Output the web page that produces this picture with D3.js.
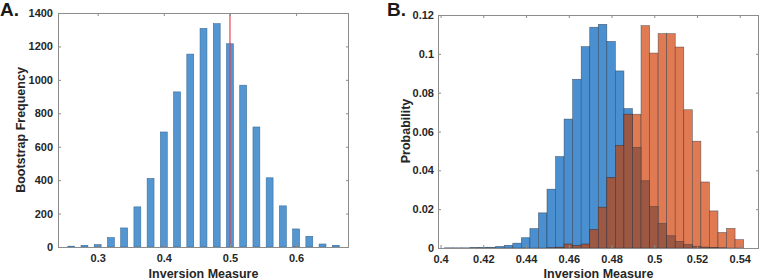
<!DOCTYPE html>
<html>
<head>
  <script src="https://d3js.org/d3.v7.min.js"></script>
  <style>
    body { margin: 0; background: #fff; font-family: "Liberation Sans", Arial, sans-serif; }
    .tick text { font-size: 11px; font-weight: bold; fill: #262626; font-family: "Liberation Sans", Arial, sans-serif; }
    .tick line { stroke: #8c8c8c; }
    .axis-label { font-size: 12.5px; font-weight: bold; fill: #262626; }
    .panel-label { font-size: 19px; font-weight: bold; fill: #1a1a1a; }
  </style>
</head>
<body>
  <div id="chart"></div>
  <script>
    // Panel A: bootstrap frequencies
    const binsA = [0.26, 0.28, 0.30, 0.32, 0.34, 0.36, 0.38, 0.40, 0.42, 0.44, 0.46,
                   0.48, 0.50, 0.52, 0.54, 0.56, 0.58, 0.60, 0.62, 0.64, 0.66];
    const freqA = [5, 10, 14, 56, 114, 240, 410, 688, 928, 1154, 1308,
                   1336, 1216, 968, 718, 414, 246, 108, 64, 18, 10];
    const refLineA = 0.5;
    const xTicksA = [0.3, 0.4, 0.5, 0.6];
    const yTicksA = [0, 200, 400, 600, 800, 1000, 1200, 1400];

    // Panel B: two probability histograms sharing bin edges
    const edgesB = [0.4018, 0.4058, 0.4098, 0.4138, 0.4178, 0.4218, 0.4258, 0.4298, 0.4338,
                    0.4378, 0.4418, 0.4458, 0.4498, 0.4538, 0.4578, 0.4618, 0.4658, 0.4698,
                    0.4738, 0.4778, 0.4818, 0.4858, 0.4898, 0.4938, 0.4978, 0.5018, 0.5058,
                    0.5098, 0.5138, 0.5178, 0.5218, 0.5258, 0.5298, 0.5338, 0.5378, 0.5418];
    const blueB = [0.0001, 0.0001, 0.0001, 0.0002, 0.0003, 0.0004, 0.0008, 0.0014, 0.0025,
                   0.0053, 0.0100, 0.0181, 0.0303, 0.0471, 0.0664, 0.0869, 0.1037, 0.1137,
                   0.1152, 0.1064, 0.0912, 0.0718, 0.0518, 0.0346, 0.0213, 0.0126, 0.0063,
                   0.0033, 0.0018, 0.0009, 0.0005, 0.0002, 0.0001, 0, 0];
    const orangeB = [0, 0, 0, 0, 0, 0, 0, 0, 0,
                     0, 0, 0, 0.0001, 0.0004, 0.0020, 0.0012, 0.0020, 0.0094,
                     0.0210, 0.0362, 0.0528, 0.0689, 0.0689, 0.1145, 0.1004, 0.1104, 0.1104,
                     0.1035, 0.0712, 0.0550, 0.0340, 0.0191, 0.0080, 0.0101, 0.0043];
    const xTicksB = [0.4, 0.42, 0.44, 0.46, 0.48, 0.5, 0.52, 0.54];
    const yTicksB = [0, 0.02, 0.04, 0.06, 0.08, 0.1, 0.12];

    const svg = d3.select("#chart").append("svg")
      .attr("width", 761)
      .attr("height", 279);

    function frame(g, x, y, xTicks, yTicks, yPad) {
      const [x0, x1] = x.range();
      const [y0, y1] = y.range();
      g.append("g").attr("transform", `translate(0,${y0})`)
        .call(d3.axisBottom(x).tickValues(xTicks).tickSize(-3).tickPadding(7).tickFormat(d3.format("~g")))
        .call(s => s.select(".domain").remove());
      g.append("g").attr("transform", `translate(0,${y1})`)
        .call(d3.axisTop(x).tickValues(xTicks).tickSize(-3).tickFormat(""))
        .call(s => s.select(".domain").remove());
      g.append("g").attr("transform", `translate(${x0},0)`)
        .call(d3.axisLeft(y).tickValues(yTicks).tickSize(-3).tickPadding(yPad).tickFormat(d3.format("~g")))
        .call(s => s.select(".domain").remove());
      g.append("g").attr("transform", `translate(${x1},0)`)
        .call(d3.axisRight(y).tickValues(yTicks).tickSize(-3).tickFormat(""))
        .call(s => s.select(".domain").remove());
      g.append("rect")
        .attr("x", x0 + 0.5).attr("y", y1 + 0.5)
        .attr("width", x1 - x0 - 1).attr("height", y0 - y1)
        .attr("fill", "none").attr("stroke", "#8c8c8c").attr("stroke-width", 1);
    }

    // ---- Panel A ----
    const xA = d3.scaleLinear().domain([0.24, 0.68]).range([58, 349]);
    const yA = d3.scaleLinear().domain([0, 1400]).range([247, 13]);
    const gA = svg.append("g");

    gA.selectAll(".barA")
      .data(binsA.map((b, i) => ({ b, v: freqA[i] })))
      .join("rect")
        .attr("class", "barA")
        .attr("x", d => xA(d.b - 0.0052))
        .attr("y", d => yA(d.v))
        .attr("width", xA(0.0104) - xA(0))
        .attr("height", d => yA(0) - yA(d.v))
        .attr("fill", "#5496d1")
        .attr("stroke", "#3b6d9a")
        .attr("stroke-width", 0.6);

    gA.append("line")
      .attr("x1", xA(refLineA)).attr("x2", xA(refLineA))
      .attr("y1", yA(1400)).attr("y2", yA(0))
      .attr("stroke", "#e5414c").attr("stroke-opacity", 0.85).attr("stroke-width", 1.4);

    frame(gA, xA, yA, xTicksA, yTicksA, 5);

    gA.append("text").attr("class", "axis-label")
      .attr("x", 203.5).attr("y", 277.5).attr("text-anchor", "middle")
      .text("Inversion Measure");
    gA.append("text").attr("class", "axis-label")
      .attr("transform", "translate(24.5,130) rotate(-90)").attr("text-anchor", "middle")
      .text("Bootstrap Frequency");
    gA.append("text").attr("class", "panel-label")
      .attr("x", 0).attr("y", 16).text("A.");

    // ---- Panel B ----
    const xB = d3.scaleLinear().domain([0.3988, 0.549]).range([438, 759]);
    const yB = d3.scaleLinear().domain([0, 0.12]).range([248, 15]);
    const gB = svg.append("g");

    const binsB = blueB.map((v, i) => ({
      lo: edgesB[i], hi: edgesB[i + 1], blue: v, orange: orangeB[i],
      both: Math.min(v, orangeB[i])
    }));

    function hist(key, fill, cls) {
      gB.selectAll("." + cls)
        .data(binsB.filter(d => d[key] > 0))
        .join("rect")
          .attr("class", cls)
          .attr("x", d => xB(d.lo))
          .attr("y", d => yB(d[key]))
          .attr("width", d => xB(d.hi) - xB(d.lo))
          .attr("height", d => yB(0) - yB(d[key]))
          .attr("fill", fill)
          .attr("stroke", "#2c3440")
          .attr("stroke-opacity", 0.7)
          .attr("stroke-width", 0.6);
    }
    hist("blue", "#4a8fd0", "barBlue");
    hist("orange", "#e07a52", "barOrange");
    hist("both", "#9c5843", "barBoth");

    frame(gB, xB, yB, xTicksB, yTicksB, 4);

    gB.append("text").attr("class", "axis-label")
      .attr("x", 598.5).attr("y", 277.5).attr("text-anchor", "middle")
      .text("Inversion Measure");
    gB.append("text").attr("class", "axis-label")
      .attr("transform", "translate(409.5,131) rotate(-90)").attr("text-anchor", "middle")
      .text("Probability");
    gB.append("text").attr("class", "panel-label")
      .attr("x", 387).attr("y", 16).text("B.");
  </script>
</body>
</html>
